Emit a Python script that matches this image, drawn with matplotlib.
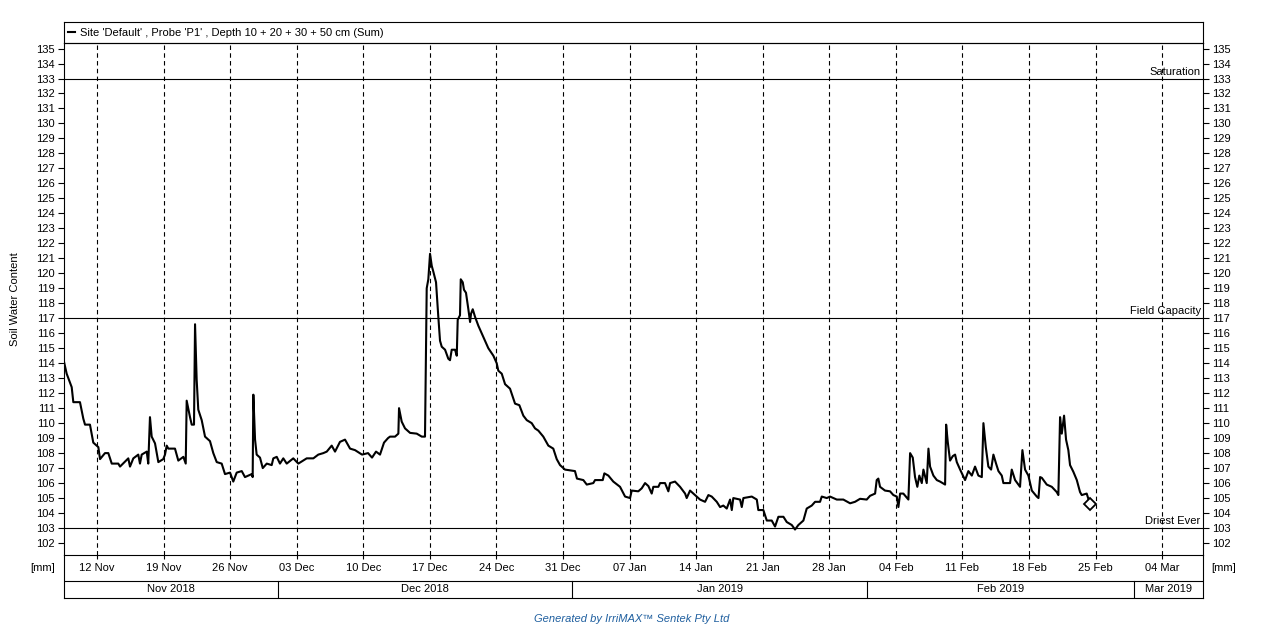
import matplotlib
matplotlib.use("Agg")
import matplotlib.pyplot as plt
import matplotlib.dates as mdates
import matplotlib.transforms as mtransforms
import numpy as np
import pandas as pd

plt.rcParams["font.family"] = ["Liberation Sans", "DejaVu Sans"]
plt.rcParams["font.size"] = 8

# days after 12 Nov 2018 and summed soil water content [mm]
days = [
    -3.47, -3.19, -2.66, -2.49, -1.79, -1.44, -1.26, -0.74, -0.39, 0.14, 0.32, 0.84,
    1.19, 1.55, 2.24, 2.42, 3.29, 3.47, 3.82, 4.34, 4.52, 4.70, 5.23, 5.39, 5.57,
    5.75, 6.10, 6.45, 6.97, 7.15, 7.33, 7.50, 8.20, 8.55, 9.08, 9.33, 9.43, 9.78,
    9.96, 10.20, 10.31, 10.48, 10.65, 11.01, 11.36, 11.88, 12.23, 12.59, 13.11,
    13.46, 13.99, 14.33, 14.69, 15.22, 15.56, 16.27, 16.37, 16.44, 16.62, 16.79,
    17.14, 17.43, 17.85, 18.37, 18.54, 18.90, 19.24, 19.59, 19.95, 20.64, 21.17,
    22.05, 22.75, 23.27, 23.80, 24.16, 24.68, 25.03, 25.55, 26.08, 26.61, 27.13,
    27.87, 28.50, 28.92, 29.34, 29.76, 30.18, 30.60, 30.81, 31.34, 31.69, 31.76,
    32.04, 32.39, 32.92, 33.62, 34.15, 34.49, 34.60, 34.67, 34.84, 35.02, 35.20,
    35.37, 35.65, 35.89, 36.07, 36.25, 36.60, 36.94, 37.12, 37.30, 37.65, 37.83,
    37.93, 38.17, 38.25, 38.46, 38.59, 38.80, 39.05, 39.23, 39.33, 39.51, 39.75,
    40.10, 40.62, 41.15, 41.68, 42.03, 42.20, 42.56, 42.91, 43.43, 43.96, 44.41,
    44.83, 45.19, 45.71, 46.06, 46.41, 46.93, 47.46, 47.98, 48.34, 48.69, 49.21,
    50.26, 50.47, 51.14, 51.50, 52.19, 52.37, 53.18, 53.35, 53.77, 54.29, 55.00,
    55.53, 56.05, 56.23, 56.92, 57.28, 57.63, 57.98, 58.33, 58.50, 59.03, 59.21,
    59.73, 60.08, 60.26, 60.78, 61.31, 61.84, 62.01, 62.36, 62.71, 63.07, 63.41,
    63.94, 64.29, 64.64, 65.17, 65.52, 65.86, 66.22, 66.57, 66.75, 66.91, 67.62,
    67.80, 67.97, 68.85, 69.38, 69.54, 70.07, 70.43, 70.95, 71.30, 71.65, 72.18,
    72.53, 73.06, 73.40, 73.75, 74.28, 74.63, 75.16, 75.51, 76.03, 76.21, 76.74,
    77.08, 77.79, 78.48, 79.19, 79.71, 80.24, 80.94, 81.29, 81.82, 81.99, 82.16,
    82.34, 82.86, 83.39, 83.74, 84.10, 84.27, 84.45, 84.79, 85.32, 85.50, 85.78,
    86.02, 86.26, 86.47, 86.73, 86.90, 87.25, 87.43, 87.60, 87.95, 88.31, 88.65,
    89.18, 89.29, 89.46, 89.70, 89.99, 90.23, 90.41, 90.76, 91.28, 91.63, 91.99,
    92.33, 92.68, 93.04, 93.21, 93.46, 93.73, 94.02, 94.26, 94.54, 94.79, 95.14,
    95.31, 96.01, 96.19, 96.54, 97.06, 97.31, 97.59, 97.94, 98.30, 98.82, 99.00,
    99.17, 99.35, 99.87, 100.40, 100.92, 101.09, 101.27, 101.45, 101.69, 101.90,
    102.14, 102.32, 102.67, 103.03, 103.37, 103.55, 104.07, 104.42,
]
swc = [
    114.1, 113.3, 112.4, 111.4, 111.4, 110.3, 109.9, 109.9, 108.7, 108.4, 107.6, 108.0,
    108.0, 107.3, 107.3, 107.1, 107.65, 107.1, 107.65, 107.9, 107.3, 107.9, 108.1, 107.3, 110.4,
    109.1, 108.65, 107.4, 107.6, 107.9, 108.5, 108.3, 108.3, 107.5, 107.75, 107.3, 111.5, 110.4,
    109.9, 109.9, 116.6, 112.9, 110.9, 110.2, 109.1, 108.8, 108.0, 107.4, 107.3,
    106.6, 106.7, 106.1, 106.7, 106.8, 106.4, 106.6, 106.4, 111.9, 108.9, 107.9,
    107.7, 107.0, 107.3, 107.2, 107.65, 107.75, 107.3, 107.65, 107.3, 107.65, 107.3,
    107.65, 107.65, 107.9, 108.0, 108.1, 108.5, 108.1, 108.75, 108.9, 108.3, 108.2,
    107.9, 108.0, 107.7, 108.1, 107.9, 108.7, 109.0, 109.1, 109.1, 109.3, 111.0,
    110.1, 109.65, 109.35, 109.3, 109.1, 109.1, 115.1, 119.0, 119.6, 121.3, 120.5,
    120.1, 119.4, 117.1, 115.5, 115.1, 114.9, 114.3, 114.2, 114.9, 114.9, 114.5,
    116.9, 117.2, 119.6, 119.4, 118.9, 118.7, 117.6, 116.75, 117.3, 117.6, 117.1,
    116.5, 115.75, 115.0, 114.5, 114.0, 113.5, 113.3, 112.6, 112.3, 111.3, 111.2,
    110.5, 110.2, 110.0, 109.65, 109.5, 109.1, 108.5, 108.3, 107.6, 107.2, 106.9,
    106.8, 106.3, 106.2, 105.9, 106.0, 106.2, 106.2, 106.65, 106.5, 106.1, 105.75,
    105.1, 105.0, 105.5, 105.45, 105.65, 106.0, 105.8, 105.3, 105.75, 105.75, 106.0,
    106.0, 105.45, 106.0, 106.1, 105.75, 105.3, 105.0, 105.5, 105.3, 105.1, 104.9,
    104.75, 105.2, 105.1, 104.75, 104.4, 104.5, 104.3, 104.9, 104.2, 105.0, 104.9,
    104.4, 105.0, 105.1, 104.9, 104.2, 104.2, 103.5, 103.5, 103.1, 103.75, 103.75,
    103.4, 103.2, 102.9, 103.2, 103.5, 104.3, 104.5, 104.75, 104.75, 105.1, 105.0,
    105.1, 104.9, 104.9, 104.65, 104.75, 104.95, 104.9, 105.15, 105.3, 106.2, 106.3,
    105.75, 105.5, 105.45, 105.2, 105.1, 104.4, 105.3, 105.3, 104.9, 108.0, 107.7,
    106.4, 105.75, 106.5, 106.0, 106.9, 106.0, 108.3, 107.1, 106.5, 106.2, 106.1,
    105.9, 109.9, 108.75, 107.5, 107.8, 107.9, 107.4, 106.9, 106.2, 106.8, 106.5,
    107.1, 106.5, 106.4, 110.0, 108.4, 107.1, 106.9, 107.9, 107.3, 106.8, 106.5,
    106.0, 106.0, 106.9, 106.2, 105.75, 108.2, 106.9, 106.5, 105.5, 105.1, 105.0,
    106.4, 106.35, 105.9, 105.75, 105.4, 105.2, 110.4, 109.3, 110.5, 108.9,
    108.2, 107.2, 106.75, 106.2, 105.4, 105.2, 105.3, 104.6,
]

ref_levels = [133, 117, 103]
ref_names = ["Saturation", "Field Capacity", "Driest Ever"]
series_name = "Site 'Default' , Probe 'P1' , Depth 10 + 20 + 30 + 50 cm (Sum)"

start = pd.Timestamp("2018-11-12")
times = start + pd.to_timedelta(days, unit="D")
x_lo = start - pd.Timedelta(days=3.47)
x_hi = start + pd.Timedelta(days=116.3)
mondays = pd.date_range("2018-11-12", "2019-03-04", freq="7D")
month_starts = pd.to_datetime(["2018-11-01", "2018-12-01", "2019-01-01", "2019-02-01", "2019-03-01", "2019-04-01"])

W, H = 1262, 625
fig = plt.figure(figsize=(W / 100, H / 100), dpi=100)
L, R = 64 / W, 1203 / W

bax = fig.add_axes([L, (H - 598) / H, R - L, 43 / H])
lax = fig.add_axes([L, (H - 43) / H, R - L, 21 / H])
ax = fig.add_axes([L, (H - 555) / H, R - L, 512 / H])
ax.patch.set_visible(False)

(line,) = ax.plot(times, swc, color="black", lw=1.5, label=series_name, zorder=3)
ax.plot(times[-1:], swc[-1:], marker="D", ms=6, mfc="white", mec="black", mew=1.3, zorder=4)

for lvl, name in zip(ref_levels, ref_names):
    ax.axhline(lvl, color="black", lw=0.8, zorder=2)
    ax.text(0.998, lvl + 0.12, name, transform=mtransforms.blended_transform_factory(ax.transAxes, ax.transData),
            ha="right", va="bottom", fontsize=8)

ax.set_xlim(x_lo, x_hi)
ax.set_ylim(101.2, 135.37)
ax.set_yticks(np.arange(102, 136, 1))
ax.set_xticks(mondays)
ax.xaxis.set_major_formatter(mdates.DateFormatter("%d %b"))
ax.grid(axis="x", color="black", lw=0.8, linestyle=(0, (4, 3)))
ax.tick_params(axis="y", direction="out", length=4, width=0.8, labelsize=8, right=True, labelright=True, pad=2.5)
ax.tick_params(axis="x", direction="out", length=3, width=0.8, labelsize=8, pad=3)
for s in ax.spines.values():
    s.set_linewidth(0.8)
ax.set_ylabel("Soil Water Content", fontsize=8)
ax.yaxis.set_label_coords(-0.039, 0.5)

# legend strip above the plot
lax.set_xticks([])
lax.set_yticks([])
for s in lax.spines.values():
    s.set_linewidth(0.8)
lax.legend(handles=[line], loc="center left", frameon=False, handlelength=0.6, handletextpad=0.5,
           borderaxespad=0.0, borderpad=0.35, fontsize=8)

# month band below the date labels
bax.set_xlim(x_lo, x_hi)
bax.set_ylim(0, 1)
bax.set_xticks([])
bax.set_yticks([])
bax.spines["top"].set_visible(False)
for s in bax.spines.values():
    s.set_linewidth(0.8)
split = 17 / 43
bax.axhline(split, color="black", lw=0.8)
for a, b in zip(month_starts[:-1], month_starts[1:]):
    a2, b2 = max(a, x_lo), min(b, x_hi)
    if a > x_lo:
        bax.axvline(a, ymin=0, ymax=split, color="black", lw=0.8)
    mid = a2 + (b2 - a2) / 2
    bax.text(mid, split / 2, a.strftime("%b %Y"), ha="center", va="center", fontsize=8)

fig.text(43 / W, 1 - 568 / H, "[mm]", ha="center", va="center", fontsize=8)
fig.text(1224 / W, 1 - 568 / H, "[mm]", ha="center", va="center", fontsize=8)
fig.text(632 / W, 1 - 619 / H, "Generated by IrriMAX\u2122 Sentek Pty Ltd", ha="center", va="center",
         fontsize=8, style="italic", color="#1f5f9f")

fig.savefig("out.png", dpi=100)
